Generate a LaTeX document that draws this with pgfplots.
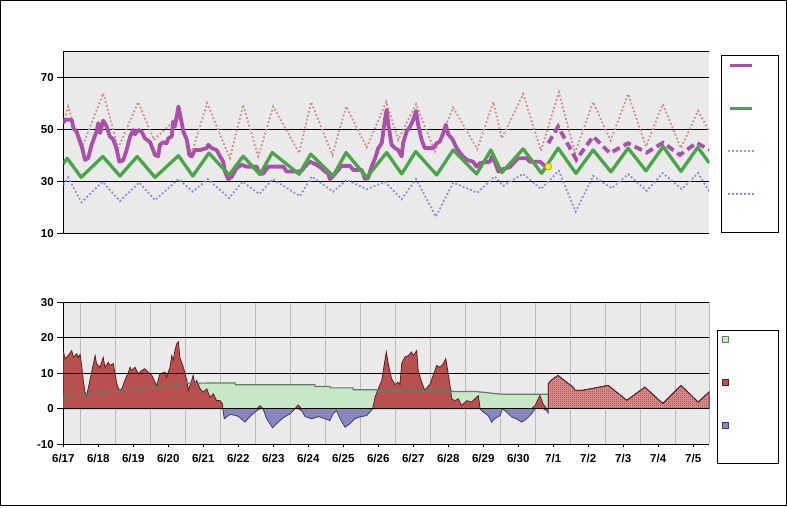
\documentclass[border=0pt]{standalone}
\usepackage{pgfplots}
\pgfplotsset{compat=1.18}
\usepackage{pgfplotstable}
\usepackage{fontspec}
\setmainfont{Liberation Sans}
\usetikzlibrary{patterns}
\pgfdeclarepatternformonly{checker}{\pgfqpoint{0pt}{0pt}}{\pgfqpoint{2pt}{2pt}}{\pgfqpoint{2pt}{2pt}}{%
  \pgfpathrectangle{\pgfpointorigin}{\pgfqpoint{1pt}{1pt}}%
  \pgfpathrectangle{\pgfqpoint{1pt}{1pt}}{\pgfqpoint{1pt}{1pt}}%
  \pgfusepath{fill}}
\definecolor{bgc}{RGB}{234,234,234}
\definecolor{gridgray}{RGB}{185,185,185}
\definecolor{obs}{RGB}{170,80,170}
\definecolor{nrm}{RGB}{72,165,72}
\definecolor{hi}{RGB}{210,140,140}
\definecolor{lo}{RGB}{140,140,215}
\definecolor{redf}{RGB}{185,80,80}
\definecolor{redd}{RGB}{100,30,30}
\definecolor{bluef}{RGB}{135,135,190}
\definecolor{blued}{RGB}{60,60,110}
\definecolor{gfill}{RGB}{200,230,200}
\definecolor{gline}{RGB}{100,125,100}
\definecolor{hatch}{RGB}{180,55,55}
\definecolor{hatchbg}{RGB}{222,150,150}
\definecolor{dotedge}{RGB}{210,160,0}

\pgfplotstableread{
d t
0 52.3
0.05 53.6
0.24 53.6
0.29 50.4
0.38 49
0.53 43.3
0.62 38.2
0.71 38.8
0.81 44
0.95 49.1
1.00 52.3
1.05 48.5
1.14 53.3
1.24 51
1.33 47.2
1.43 46
1.53 42
1.60 37.5
1.71 38
1.81 42
1.91 47.2
2.00 49.7
2.05 48
2.14 49.7
2.24 49
2.33 46.5
2.48 45
2.62 40.1
2.71 39.5
2.76 44
2.86 45
2.95 44.5
3.00 46.5
3.10 47.2
3.14 52.9
3.19 51
3.24 54.8
3.29 58.7
3.35 54.8
3.43 49.1
3.53 45.9
3.60 40.1
3.67 39.5
3.76 42
3.91 42
4.10 42.7
4.14 44
4.24 42.7
4.38 42
4.48 39.5
4.57 37.5
4.62 33.7
4.71 30.8
4.81 31.6
4.95 35
5.10 36.3
5.24 35.6
5.53 35.6
5.60 32.9
5.71 32.9
5.86 35.6
6.29 35.6
6.38 33.7
6.67 33.7
6.81 34
6.95 36.3
7.05 37.5
7.24 36.3
7.38 35
7.48 33.7
7.57 33
7.62 30.8
7.71 32
7.86 34.3
7.95 35.9
8.19 35.9
8.29 34.3
8.53 34.3
8.62 30.8
8.71 31.2
8.81 35.6
8.91 38.8
9.00 42.7
9.10 44.6
9.19 53.6
9.24 57.4
9.29 51.7
9.38 44
9.48 42.7
9.57 42
9.67 39.5
9.71 44.6
9.81 49.1
9.91 51
10.00 53.6
10.08 57
10.14 51.7
10.24 45.9
10.33 42.7
10.57 42.7
10.67 44.6
10.76 45.2
10.86 48.5
10.93 51.7
11.00 48
11.13 45.9
11.24 42.7
11.38 40.1
11.53 38.2
11.71 37.5
11.81 35.6
11.91 37
12.19 37.5
12.24 39.5
12.33 37.5
12.43 33.7
12.53 34.5
12.76 35.4
12.86 36.9
13.00 38.8
13.24 38.8
13.33 37.5
13.62 37.5
13.76 35.9
13.86 35.6
}\obs

\pgfplotstableread{
d t
13.86 44.6
14.14 51
14.66 38.3
15.14 47.2
15.62 40.8
16.14 44.6
16.67 41
17.14 44.8
17.62 40.1
18.10 44.8
18.46 42
}\fcst

\pgfplotstableread{
d t
0 36.7
0.11 38.8
0.51 31.5
1.13 39.5
1.62 32
2.11 39.5
2.62 31.5
3.29 39.8
3.70 32
4.16 40.8
4.74 32.4
5.14 39.6
5.62 32.6
5.97 41
6.74 32.7
7.07 40.4
7.71 32
8.08 41
8.67 31.5
9.24 41
9.67 32.8
10.07 41.4
10.67 32.4
11.14 42
11.81 32.8
12.22 42
12.53 33.3
13.14 42.4
13.67 33
14.14 42.7
14.65 33
15.14 42
15.65 33.6
16.14 42.7
16.65 34
17.14 43.3
17.65 33.8
18.13 43
18.46 37
}\nrm

\pgfplotstableread{
d t
0 52.3
0.14 58.7
0.51 42
1.14 63.8
1.57 42.7
2.14 60.4
2.59 45.9
3.29 54.8
3.67 40.8
4.11 60
4.76 38.8
5.14 59.3
5.57 39.5
6.00 58.7
6.74 40.8
7.08 60.4
7.69 40.1
8.08 58.7
8.67 43
9.23 60.5
9.57 45.9
10.08 59.6
10.62 41.4
11.14 58.3
11.83 42.3
12.29 60.4
12.53 46.5
13.14 63.5
13.65 41.7
14.16 64.2
14.62 40.8
15.14 60.4
15.64 45.6
16.14 63.5
16.65 43.3
17.13 59.6
17.65 42.7
18.14 57
18.46 49.1
}\hi

\pgfplotstableread{
d t
0 28.6
0.14 31.4
0.52 21.9
1.12 29.8
1.62 22.4
2.17 29.5
2.62 22.7
3.29 30.8
3.70 26
4.13 30.8
4.74 23.5
5.12 29.8
5.60 25.1
5.98 30.8
6.76 24.3
7.10 31.8
7.71 26
8.10 30.5
8.67 26.9
9.19 29.8
9.67 23.1
10.08 30.8
10.65 16.4
11.14 29.5
11.83 25.6
12.33 31.8
12.57 28.2
13.14 32.8
13.65 27
14.16 34
14.64 18.3
15.14 32
15.67 27.3
16.14 32.7
16.67 26.3
17.13 33.1
17.67 27
18.14 33.1
18.46 26
}\lo

\pgfplotstableread{
d v
0 0
0 16.4
0.05 14.1
0.14 15
0.24 16.4
0.29 14.5
0.38 15.5
0.43 14.5
0.48 15.3
0.53 11.7
0.57 8
0.62 4.7
0.67 3.75
0.76 8
0.86 12.7
0.91 15
0.95 12.7
1.05 11.7
1.14 14.5
1.19 11.7
1.29 13.1
1.33 12.2
1.43 12.7
1.48 9.85
1.53 7
1.60 5.2
1.67 5.6
1.76 8
1.86 10.3
1.91 11.7
1.95 10.8
2.05 11.7
2.14 9.85
2.24 10.8
2.33 11.3
2.43 10.3
2.53 9.4
2.67 6.5
2.76 9.85
2.91 10.3
2.95 8.9
3.05 11.7
3.10 15
3.14 13.6
3.19 16.4
3.24 18.3
3.29 18.8
3.33 14.5
3.43 11.7
3.53 8
3.57 5.2
3.67 8
3.71 9.4
3.76 7
3.81 8
3.91 5.6
4.00 4.7
4.10 5.6
4.19 3.3
4.29 4.2
4.38 2.3
4.48 2.3
4.55 1.4
4.56 0
4.60 -2.8
4.76 -1.6
4.95 -1.9
5.05 -2.5
5.19 -3.75
5.33 -2.2
5.53 -0.5
5.62 0.9
5.71 0
5.81 -2.8
5.98 -5.35
6.14 -3.75
6.29 -2.5
6.48 -1.4
6.62 0
6.71 1.1
6.81 -0.5
6.91 -2.2
7.10 -2.8
7.29 -2.2
7.48 -2.8
7.62 -3.3
7.71 -1.4
7.81 -0.5
7.91 -2.8
8.05 -5.2
8.19 -4.2
8.33 -2.8
8.48 -2.3
8.67 -1.9
8.76 -0.9
8.84 0
8.91 3.3
9.00 5.6
9.10 8
9.19 13.6
9.23 16
9.29 12.5
9.38 8.5
9.48 6.8
9.57 7.5
9.62 6.8
9.67 12.7
9.76 14.6
9.86 15
9.95 16
10.00 15
10.10 16.4
10.14 10.8
10.24 7.5
10.33 5.2
10.48 7
10.62 10.8
10.67 12.2
10.76 11.7
10.86 12.7
10.93 14.1
11.03 8
11.10 2.8
11.19 2.3
11.29 2.8
11.38 0.9
11.53 2.3
11.67 1.9
11.86 3.75
11.91 0
12.00 -0.9
12.14 -1.9
12.24 -3.75
12.33 -2.8
12.48 -1.9
12.55 0
12.67 -0.9
12.81 -2.3
12.95 -2.8
13.10 -3.75
13.24 -2.8
13.38 -1.4
13.48 0.9
13.62 3.75
13.71 1.4
13.81 -0.5
13.86 -1.2
13.86 0
}\dep

\pgfplotstableread{
d v
13.86 0
13.86 7
13.89 7.5
14.00 8.5
14.14 9.4
14.38 7.5
14.57 6.1
14.62 5.2
14.81 5.2
15.05 5.6
15.57 6.6
16.10 2.4
16.62 6.1
17.13 1.5
17.65 6.6
18.14 1.9
18.46 4.8
18.46 0
}\depf

\pgfplotstableread{
d v
0 3.3
3.53 7.2
4.91 7.3
4.92 6.8
7.19 6.76
7.20 6.28
7.62 6.28
7.63 5.9
8.28 5.9
8.29 5.35
8.96 5.35
8.97 5.16
11.10 5.16
11.11 4.9
11.76 4.9
12.24 4.4
12.53 4.1
13.86 4.1
}\nrmdep

\pgfplotstableread{
d v
0 0
0 3.3
3.53 7.2
4.91 7.3
4.92 6.8
7.19 6.76
7.20 6.28
7.62 6.28
7.63 5.9
8.28 5.9
8.29 5.35
8.96 5.35
8.97 5.16
11.10 5.16
11.11 4.9
11.76 4.9
12.24 4.4
12.53 4.1
13.86 4.1
13.86 0
}\nrmdepA

\begin{document}
\begin{tikzpicture}
\useasboundingbox (0pt,0pt) rectangle (787pt,507pt);
\draw[black, line width=1pt] (0.5pt,1.5pt) rectangle (786pt,506.5pt);

\pgfplotsset{
  common/.style={
    anchor=south west, scale only axis, width=646pt,
    xmin=0, xmax=18.46,
    axis background/.style={fill=bgc},
    axis x line*=bottom, axis y line*=left,
    axis line style={black, line width=1pt, -},
    minor xtick={0.5,1.5,...,17.5,18.46},
    xminorgrids, minor x grid style={gridgray, line width=1pt},
    ymajorgrids, major y grid style={black, line width=1pt},
    tick align=outside, major tick length=6pt, minor tick length=0pt,
    tick style={black, line width=1pt},
    tick label style={font=\bfseries\fontsize{11.5}{12}\selectfont},
    /pgf/number format/assume math mode=true,
  }
}

% ---------------- top panel ----------------
\begin{axis}[common,
  at={(63.3pt,273.7pt)}, height=182.3pt,
  ymin=10, ymax=80,
  xtick=\empty,
  ytick={10,30,50,70},
  extra y ticks={80}, extra y tick labels={},
  extra y tick style={major tick length=0pt, ymajorgrids, major y grid style={black, line width=1pt}},
]
\addplot[hi, line width=1.8pt, dash pattern=on 1.8pt off 2.2pt] table[x=d,y=t] {\hi};
\addplot[lo, line width=1.8pt, dash pattern=on 1.8pt off 2.2pt] table[x=d,y=t] {\lo};
\addplot[obs, line width=3.8pt, line join=round] table[x=d,y=t] {\obs};
\addplot[obs, line width=3.8pt, dash pattern=on 8pt off 4.5pt] table[x=d,y=t] {\fcst};
\addplot[nrm, line width=3.3pt, line join=round] table[x=d,y=t] {\nrm};
\addplot[only marks, mark=*, mark size=3.3pt, mark options={fill=yellow, draw=dotedge, line width=0.8pt}] coordinates {(13.86,35.6)};
\end{axis}

% ---------------- bottom panel ----------------
\begin{axis}[common,
  at={(63.3pt,62.7pt)}, height=142pt,
  ymin=-10, ymax=30,
  ytick={-10,0,10,20,30},
  xtick={0,1,...,18},
  xticklabels={6/17,6/18,6/19,6/20,6/21,6/22,6/23,6/24,6/25,6/26,6/27,6/28,6/29,6/30,7/1,7/2,7/3,7/4,7/5},
  xtick style={/pgfplots/major tick length=3pt},
]
\addplot[fill=gfill, draw=none] table[x=d,y=v] {\nrmdepA};
\addplot[fill=redf, draw=redd, line width=0.8pt] table[x=d, y expr={max(\thisrow{v},0)}] {\dep};
\addplot[fill=bluef, draw=blued, line width=0.8pt] table[x=d, y expr={min(\thisrow{v},0)}] {\dep};
\addplot[fill=hatchbg, draw=redd, line width=0.8pt, postaction={pattern=checker, pattern color=hatch}] table[x=d,y=v] {\depf};
\addplot[gline, line width=1.2pt] table[x=d,y=v] {\nrmdep};
\addplot[black, line width=1pt] coordinates {(0,0) (18.46,0)};
\addplot[black, line width=1pt] coordinates {(0,10) (18.46,10)};
\addplot[black, line width=1pt] coordinates {(0,20) (18.46,20)};
\end{axis}

% ---------------- legends ----------------
\draw[black, line width=1pt, fill=white] (721.3pt,451pt) rectangle (778.7pt,275pt);
\draw[obs, line width=3.2pt] (730pt,441.7pt) -- (752pt,441.7pt);
\draw[nrm, line width=3.2pt] (730pt,398.3pt) -- (752pt,398.3pt);
\draw[hi, line width=1.8pt, dash pattern=on 1.8pt off 2.2pt] (728pt,355.7pt) -- (755pt,355.7pt);
\draw[lo, line width=1.8pt, dash pattern=on 1.8pt off 2.2pt] (728pt,312.7pt) -- (755pt,312.7pt);

\draw[black, line width=1pt, fill=white] (717.3pt,176.7pt) rectangle (778.7pt,43.7pt);
\draw[gline, fill=gfill, line width=0.8pt] (722.3pt,164.7pt) rectangle (728.3pt,170.7pt);
\draw[redd, fill=redf, line width=0.8pt] (722.3pt,121.7pt) rectangle (728.3pt,127.7pt);
\draw[blued, fill=bluef, line width=0.8pt] (722.3pt,78.7pt) rectangle (728.3pt,84.7pt);
\end{tikzpicture}
\end{document}
